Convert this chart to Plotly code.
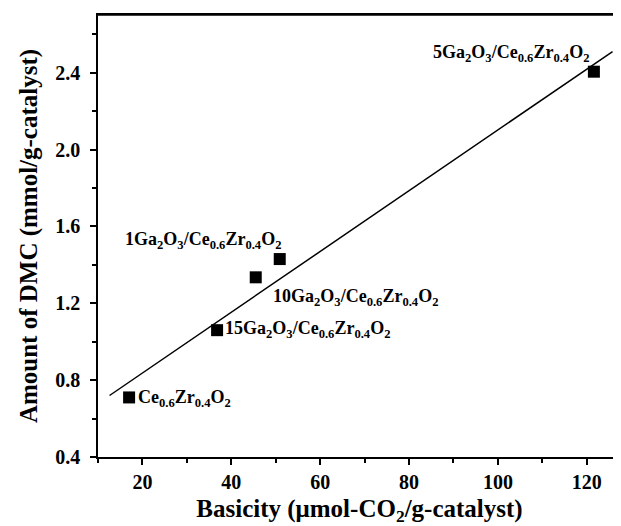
import plotly.graph_objects as go

# Data
basicity = [17.0, 36.8, 45.5, 50.9, 121.6]
dmc = [0.71, 1.06, 1.335, 1.43, 2.405]

fit_x = [12.6, 125.8]
fit_y = [0.72, 2.51]

labels = [
    "Ce<sub>0.6</sub>Zr<sub>0.4</sub>O<sub>2</sub>",
    "15Ga<sub>2</sub>O<sub>3</sub>/Ce<sub>0.6</sub>Zr<sub>0.4</sub>O<sub>2</sub>",
    "10Ga<sub>2</sub>O<sub>3</sub>/Ce<sub>0.6</sub>Zr<sub>0.4</sub>O<sub>2</sub>",
    "1Ga<sub>2</sub>O<sub>3</sub>/Ce<sub>0.6</sub>Zr<sub>0.4</sub>O<sub>2</sub>",
    "5Ga<sub>2</sub>O<sub>3</sub>/Ce<sub>0.6</sub>Zr<sub>0.4</sub>O<sub>2</sub>",
]
label_x = [18.6, 38.1, 49.0, 15.6, 120.9]
label_y = [0.706, 1.063, 1.23, 1.529, 2.50]
label_anchor = ["left", "left", "left", "left", "right"]

x_ticks = [20, 40, 60, 80, 100, 120]
y_ticks = [0.4, 0.8, 1.2, 1.6, 2.0, 2.4]

FONT = "Liberation Serif"

fig = go.Figure()
fig.add_trace(go.Scatter(x=fit_x, y=fit_y, mode="lines",
                         line=dict(color="black", width=1.5), showlegend=False))
fig.add_trace(go.Scatter(x=basicity, y=dmc, mode="markers",
                         marker=dict(symbol="square", size=12, color="black"),
                         showlegend=False))

for t, x, y, a in zip(labels, label_x, label_y, label_anchor):
    fig.add_annotation(x=x, y=y, text="<b>" + t + "</b>", showarrow=False,
                       xanchor=a, yanchor="middle",
                       font=dict(family=FONT, size=18, color="black"))

# top frame line of the plot box
fig.add_shape(type="line", xref="paper", yref="paper", x0=0, x1=1, y0=1, y1=1,
              line=dict(color="black", width=1.5))

fig.update_layout(
    width=613, height=518,
    margin=dict(l=90, r=0, t=7, b=69),
    paper_bgcolor="white", plot_bgcolor="white",
    font=dict(family=FONT, color="black"),
)
fig.update_xaxes(
    automargin=False,
    range=[10, 127.7], tickvals=x_ticks, ticktext=[str(v) for v in x_ticks],
    showgrid=False, zeroline=False, showline=True, linecolor="black", linewidth=1.5,
    mirror=True, ticks="outside", ticklen=6, tickwidth=1.5, tickcolor="black",
    minor=dict(tickvals=[10, 30, 50, 70, 90, 110], ticks="outside", ticklen=4, tickwidth=1.5, tickcolor="black"),
    tickfont=dict(family=FONT, size=20, color="black", weight="bold"),
    title=dict(text="Basicity (μmol-CO<sub>2</sub>/g-catalyst)", standoff=8,
               font=dict(family=FONT, size=25, color="black", weight="bold")),
)
fig.update_yaxes(
    automargin=False,
    range=[0.4, 2.7], tickvals=y_ticks, ticktext=["%.1f" % v for v in y_ticks],
    showgrid=False, zeroline=False, showline=True, linecolor="black", linewidth=1.5,
    ticks="outside", ticklen=6, tickwidth=1.5, tickcolor="black", ticklabelstandoff=6,
    minor=dict(tickvals=[0.6, 1.0, 1.4, 1.8, 2.2, 2.6], ticks="outside", ticklen=4, tickwidth=1.5, tickcolor="black"),
    tickfont=dict(family=FONT, size=20, color="black", weight="bold"),
    title=dict(text="Amount of DMC (mmol/g-catalyst)", standoff=11,
               font=dict(family=FONT, size=25, color="black", weight="bold")),
)

fig.write_html("out.html")
